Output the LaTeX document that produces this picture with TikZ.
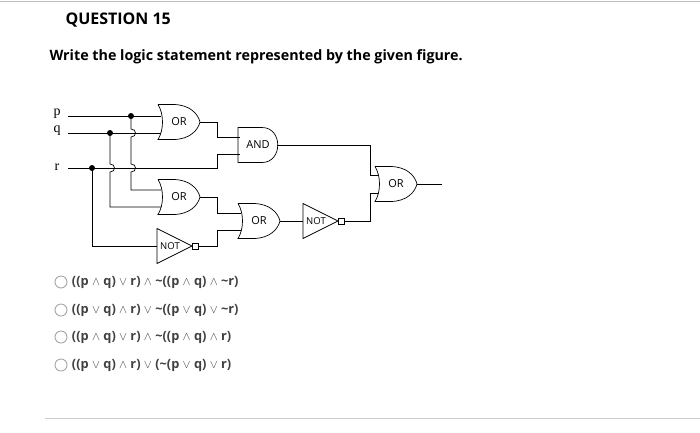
\documentclass[tikz,border=0pt]{standalone}
\usepackage{fontspec}
\setmainfont{Open Sans}
\newfontfamily\serif{Liberation Serif}
\usetikzlibrary{positioning}

\begin{document}
\begin{tikzpicture}
    [
    x=1pt,y=-1pt,
    wire/.style={line width=0.7pt},
    gate/.style={draw,line width=0.7pt,fill=white},
    glabel/.style={font=\fontsize{11}{12}\selectfont},
    choice/.style={font=\fontsize{12.8}{14}\selectfont\bfseries,text=black!75,anchor=west},
    radio/.style={circle,draw=black!35,line width=0.9pt,minimum size=12pt,inner sep=0pt},
    invar/.style={font=\serif\fontsize{14}{15}\selectfont},
    orgate/.pic={
      \path [gate] (0,-17.5) -- (15,-17.5) .. controls (32,-17.5) and (40,-8) .. (42,0)
        .. controls (40,8) and (32,17.5) .. (15,17.5) -- (0,17.5)
        .. controls (6,8) and (6,-8) .. (0,-17.5);
      \node [glabel] at (21,0) {OR};
      \coordinate (-out) at (42,0);
    },
    andgate/.pic={
      \path [gate] (0,-17.5) -- (24,-17.5) .. controls (45,-17.5) and (45,17.5) .. (24,17.5)
        -- (0,17.5) -- cycle;
      \node [glabel] at (20,0) {AND};
      \coordinate (-out) at (39,0);
    },
    notgate/.pic={
      \path [gate] (0,-17.5) -- (35,0) -- (0,17.5) -- cycle;
      \path [gate] (35,-3) rectangle (41,3);
      \node [glabel,font=\fontsize{9.5}{10}\selectfont] at (13,0) {NOT};
      \coordinate (-out) at (41,0);
    },
    ]
    \useasboundingbox (0,0) rectangle (700,432);
    \draw [black!25] (0,1) -- (700,1);
    \draw [black!20] (45,418) -- (700,418);

    \node (title) [anchor=west,font=\fontsize{16}{18}\selectfont\bfseries] at (62,20) {QUESTION 15};
    \node (ask) [anchor=west,font=\fontsize{14.3}{16}\selectfont\bfseries] at (46,57)
      {Write the logic statement represented by the given figure.};

    % inputs
    \node (p) [invar] at (57,114) {p};
    \node (q) [invar] at (57,131) {q};
    \node (r) [invar] at (57,167) {r};

    % gates
    \pic (or1) at (158,122) {orgate};
    \pic (and1) at (238,145) {andgate};
    \pic (or2) at (158,197) {orgate};
    \pic (or3) at (238,221) {orgate};
    \pic (not1) at (157,246) {notgate};
    \pic (not2) at (303,221) {notgate};
    \pic (or4) at (375,184) {orgate};

    % wires
    \coordinate (out) at (442,184);
    \draw [wire] (68,116) -- (161,116);
    \draw [wire] (68,133) -- (161,133);
    \draw [wire] (68,168) -- (217,168) -- (217,154) -- (240,154);
    \draw [wire] (or1-out) -- (217,122) -- (217,137) -- (240,137);
    \draw [wire] (and1-out) -- (370,145) -- (370,175) -- (378,175);
    \draw [wire] (131,116) -- (131,129) .. controls (137,129) and (137,137) .. (131,137)
      -- (131,164) .. controls (137,164) and (137,172) .. (131,172) -- (131,190) -- (161,190);
    \draw [wire] (110,133) -- (110,164) .. controls (116,164) and (116,172) .. (110,172)
      -- (110,207) -- (161,207);
    \draw [wire] (92,168) -- (92,246) -- (157,246);
    \draw [wire] (or2-out) -- (217,197) -- (217,213) -- (241,213);
    \draw [wire] (not1-out) -- (217,246) -- (217,230) -- (241,230);
    \draw [wire] (or3-out) -- (303,221);
    \draw [wire] (not2-out) -- (370,221) -- (370,193) -- (378,193);
    \draw [wire] (or4-out) -- (out);
    \foreach \d in {(131,116),(110,133),(92,168)}
      \fill \d circle (3);

    % choices
    \foreach \i/\y/\t in {1/282/{((p $\wedge$ q) $\vee$ r) $\wedge$ \textasciitilde((p $\wedge$ q) $\wedge$ \textasciitilde r)},
                          2/310/{((p $\vee$ q) $\wedge$ r) $\vee$ \textasciitilde((p $\vee$ q) $\vee$ \textasciitilde r)},
                          3/337/{((p $\wedge$ q) $\vee$ r) $\wedge$ \textasciitilde((p $\wedge$ q) $\wedge$ r)},
                          4/365/{((p $\vee$ q) $\wedge$ r) $\vee$ (\textasciitilde(p $\vee$ q) $\vee$ r)}}
    {
      \node (c\i) [radio] at (61,\y) {};
      \node (t\i) [choice,right=1pt of c\i] {\t};
    }
\end{tikzpicture}
\end{document}
